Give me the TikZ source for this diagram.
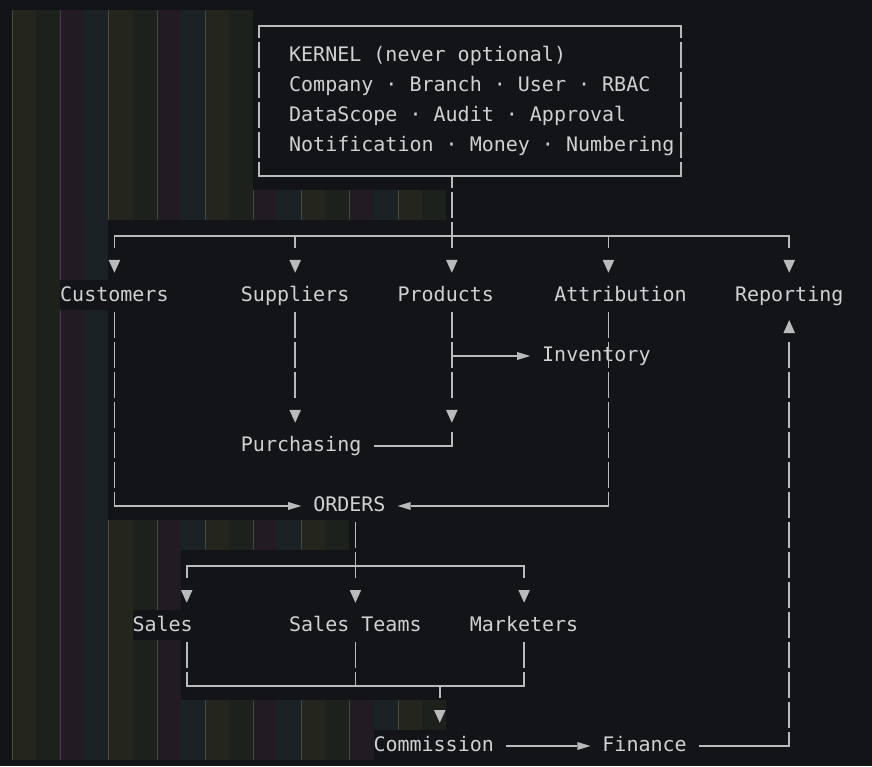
\documentclass[tikz,border=0pt]{standalone}
\usepackage{fontspec}
\setmonofont{DejaVu Sans Mono}
\definecolor{bg}{HTML}{131417}
\definecolor{band0}{HTML}{24251D}
\definecolor{band1}{HTML}{1C211C}
\definecolor{band2}{HTML}{221B23}
\definecolor{band3}{HTML}{1A2225}
\definecolor{guide0}{HTML}{4A4A40}
\definecolor{guide2}{HTML}{4B3F4D}
\definecolor{fg}{HTML}{D0D1D3}
\definecolor{lc}{HTML}{B9BABC}
\begin{document}
\begin{tikzpicture}[x=12.05pt,y=-30pt,
  txt/.style={anchor=base west,inner sep=0pt,outer sep=0pt,text=fg,font=\fontsize{20}{24}\selectfont\ttfamily},
  ln/.style={draw=lc,line width=1.7pt},
  vdash/.style={ln,dash pattern=on 26.6pt off 3.4pt},
  head/.style={fill=lc,draw=none}]
\useasboundingbox[fill=bg] (-0.99585,-0.33333) rectangle (71.3693,25.2);
% indentation stripes
\foreach \rr/\L in {0/20,1/20,2/20,3/20,4/20,5/20,6/36,7/8,8/8,9/4,10/8,11/8,12/8,13/8,14/8,15/8,16/8,17/28,18/14,19/14,20/10,21/14,22/14,23/36,24/30}{
  \pgfmathtruncatemacro\nb{\L/2-1}
  \foreach \k in {0,...,\nb}{
    \pgfmathtruncatemacro\m{mod(\k,4)}
    \fill[fill=band\m] (2*\k,\rr) rectangle (2*\k+2,\rr+1);
    \ifnum\m=0 \draw[guide0,line width=1pt] (2*\k+0.04,\rr) -- (2*\k+0.04,\rr+1);\fi
    \ifnum\m=2 \draw[guide2,line width=1pt] (2*\k+0.04,\rr) -- (2*\k+0.04,\rr+1);\fi
  }
}
% texts
\node[txt] (k1) at (23,1.723) {KERNEL (never optional)};
\node[txt] (k2) at (23,2.723) {Company · Branch · User · RBAC};
\node[txt] (k3) at (23,3.723) {DataScope · Audit · Approval};
\node[txt] (k4) at (23,4.723) {Notification · Money · Numbering};
\node[txt] (cust) at (4,9.723) {Customers};
\node[txt] (supp) at (19,9.723) {Suppliers};
\node[txt] (prod) at (32,9.723) {Products};
\node[txt] (attr) at (45,9.723) {Attribution};
\node[txt] (rep) at (60,9.723) {Reporting};
\node[txt] (inv) at (44,11.723) {Inventory};
\node[txt] (purch) at (19,14.723) {Purchasing};
\node[txt] (orders) at (25,16.723) {ORDERS};
\node[txt] (sales) at (10,20.723) {Sales};
\node[txt] (teams) at (23,20.723) {Sales Teams};
\node[txt] (mkt) at (38,20.723) {Marketers};
\node[txt] (comm) at (30,24.723) {Commission};
\node[txt] (fin) at (49,24.723) {Finance};
% kernel box
\draw[ln] (20.5,0.943) -- (20.5,0.533) -- (55.5,0.533) -- (55.5,0.943);
\draw[vdash] (20.5,1.057) -- (20.5,4.943);
\draw[vdash] (55.5,1.057) -- (55.5,4.943);
\draw[ln] (20.5,5.057) -- (20.5,5.533) -- (55.5,5.533) -- (55.5,5.057);
\draw[ln] (36.5,5.533) -- (36.5,5.943);
\draw[vdash] (36.5,6.057) -- (36.5,7.943);
% distribution bar
\draw[ln] (8.5,7.943) -- (8.5,7.533) -- (64.5,7.533) -- (64.5,7.943);
\draw[ln] (23.5,7.533) -- (23.5,7.943);
\draw[ln] (49.5,7.533) -- (49.5,7.943);
\foreach \c in {8,23,36,49,64}
  \fill[head] (\c+0.02,8.333) -- (\c+0.98,8.333) -- (\c+0.5,8.757) -- cycle;
% Customers -> ORDERS
\draw[vdash] (8.5,10.057) -- (8.5,15.943);
\draw[ln] (8.5,16.057) -- (8.5,16.533) -- (22.92,16.533);
\fill[head] (24,16.533) -- (22.92,16.4) -- (22.92,16.666) -- cycle;
% Suppliers -> Purchasing
\draw[vdash] (23.5,10.057) -- (23.5,12.943);
\fill[head] (23.02,13.333) -- (23.98,13.333) -- (23.5,13.757) -- cycle;
% Products
\draw[vdash] (36.5,10.057) -- (36.5,12.943);
\fill[head] (36.02,13.333) -- (36.98,13.333) -- (36.5,13.757) -- cycle;
\draw[ln] (36.5,11.533) -- (41.92,11.533);
\fill[head] (43,11.533) -- (41.92,11.4) -- (41.92,11.666) -- cycle;
% Purchasing -> Products
\draw[ln] (30,14.533) -- (36.5,14.533) -- (36.5,14.057);
% Attribution -> ORDERS
\draw[vdash] (49.5,10.057) -- (49.5,15.943);
\draw[ln] (49.5,16.057) -- (49.5,16.533) -- (33.08,16.533);
\fill[head] (32,16.533) -- (33.08,16.4) -- (33.08,16.666) -- cycle;
% ORDERS down
\draw[vdash] (28.5,17.057) -- (28.5,18.943);
\draw[ln] (14.5,18.943) -- (14.5,18.533) -- (42.5,18.533) -- (42.5,18.943);
\foreach \c in {14,28,42}
  \fill[head] (\c+0.02,19.333) -- (\c+0.98,19.333) -- (\c+0.5,19.757) -- cycle;
% Sales, Sales Teams, Marketers -> Commission
\draw[ln] (14.5,21.057) -- (14.5,21.943);
\draw[ln] (28.5,21.057) -- (28.5,21.943);
\draw[ln] (42.5,21.057) -- (42.5,21.943);
\draw[ln] (14.5,22.057) -- (14.5,22.533) -- (42.5,22.533) -- (42.5,22.057);
\draw[ln] (28.5,22.057) -- (28.5,22.533);
\draw[ln] (35.5,22.533) -- (35.5,22.943);
\fill[head] (35.02,23.333) -- (35.98,23.333) -- (35.5,23.757) -- cycle;
% Commission -> Finance
\draw[ln] (41,24.533) -- (46.92,24.533);
\fill[head] (48,24.533) -- (46.92,24.4) -- (46.92,24.666) -- cycle;
% Finance -> Reporting
\draw[ln] (57,24.533) -- (64.5,24.533) -- (64.5,24.057);
\draw[vdash] (64.5,11.057) -- (64.5,23.943);
\fill[head] (64.5,10.333) -- (64.02,10.767) -- (64.98,10.767) -- cycle;
\end{tikzpicture}
\end{document}
